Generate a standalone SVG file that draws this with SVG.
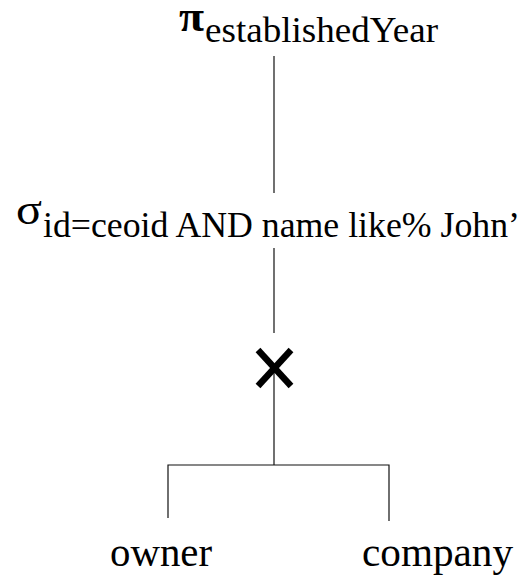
<svg xmlns="http://www.w3.org/2000/svg" width="527" height="575" viewBox="0 0 527 575">
<style>
.t { font-family: 'Liberation Serif', 'Times New Roman', Tinos, 'DejaVu Serif', 'Noto Serif', serif; fill: #000; }
.greek { font-size: 44px; }
.sub { font-size: 35px; }
.rel { font-size: 43px; }
.edge { stroke: #111; stroke-width: 1.2; fill: none; }
.cross { stroke: #000; stroke-width: 6.5; stroke-linecap: butt; }
</style>
<rect width="527" height="575" fill="#fff"/>
<g id="connectors">
<line class="edge" x1="274" y1="56" x2="274" y2="193"/>
<line class="edge" x1="274" y1="248" x2="274" y2="333"/>
<line class="edge" x1="274" y1="368" x2="274" y2="465"/>
<polyline class="edge" points="168,518 168,465 389,465 389,521"/>
</g>
<g id="projection">
<text class="t greek" font-weight="bold" x="179" y="31" textLength="25" lengthAdjust="spacingAndGlyphs">π</text>
<text class="t sub" x="205" y="42" textLength="233" lengthAdjust="spacingAndGlyphs">establishedYear</text>
</g>
<g id="selection">
<text class="t greek" x="16" y="224" textLength="26" lengthAdjust="spacingAndGlyphs">σ</text>
<text class="t sub" x="43" y="237" textLength="477" lengthAdjust="spacingAndGlyphs">id=ceoid AND name like% John’</text>
</g>
<g id="product">
<line class="cross" x1="258" y1="350" x2="291" y2="386"/>
<line class="cross" x1="291" y1="350" x2="258" y2="386"/>
</g>
<g id="owner">
<text class="t rel" x="110" y="566" textLength="102" lengthAdjust="spacingAndGlyphs">owner</text>
</g>
<g id="company">
<text class="t rel" x="362" y="566" textLength="151" lengthAdjust="spacingAndGlyphs">company</text>
</g>
</svg>
